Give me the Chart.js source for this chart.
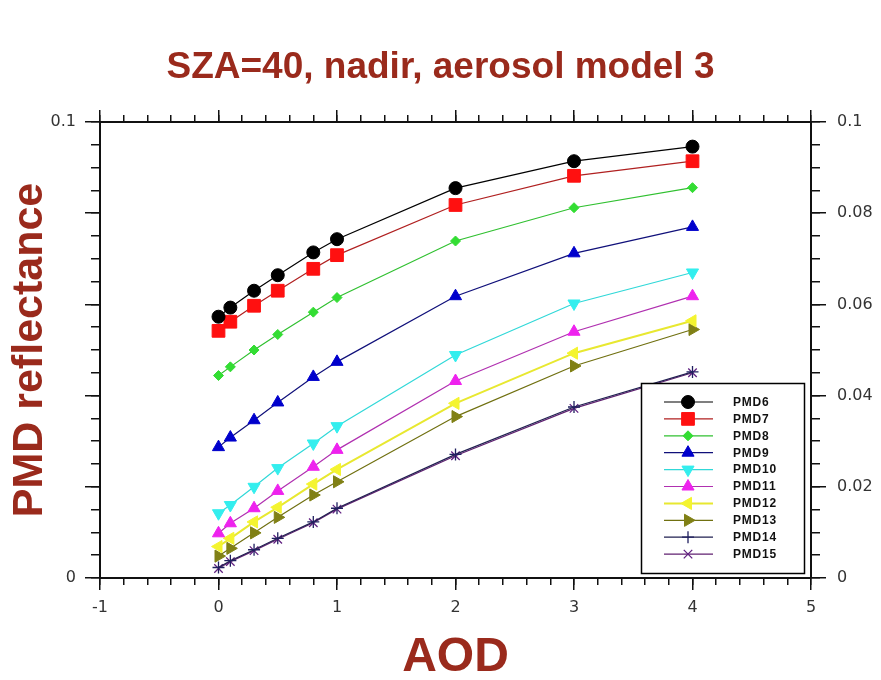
<!DOCTYPE html>
<html>
<head>
<meta charset="utf-8">
<title>PMD reflectance vs AOD</title>
<script src="https://cdn.jsdelivr.net/npm/chart.js@4.4.1/dist/chart.umd.min.js"></script>
<style>
  body { margin: 0; background: #fff; }
  #graphCanvas { display: block; }
</style>
</head>
<body>
<canvas id="graphCanvas" width="881" height="680"></canvas>
<script>
// aerosol optical depth values (x)
var aod = [0, 0.1, 0.3, 0.5, 0.8, 1, 2, 3, 4];

// reflectance per PMD channel
var pmd6  = [0.0573, 0.0593, 0.0630, 0.0664, 0.0714, 0.0743, 0.0855, 0.0914, 0.0946];
var pmd7  = [0.0542, 0.0562, 0.0597, 0.0630, 0.0678, 0.0708, 0.0818, 0.0882, 0.0914];
var pmd8  = [0.0444, 0.0463, 0.0500, 0.0534, 0.0583, 0.0615, 0.0739, 0.0812, 0.0856];
var pmd9  = [0.0287, 0.0308, 0.0346, 0.0385, 0.0441, 0.0474, 0.0618, 0.0712, 0.0770];
var pmd10 = [0.0142, 0.0160, 0.0200, 0.0241, 0.0295, 0.0333, 0.0489, 0.0602, 0.0670];
var pmd11 = [0.0098, 0.0120, 0.0153, 0.0191, 0.0244, 0.0281, 0.0432, 0.0540, 0.0618];
var pmd12 = [0.0069, 0.0087, 0.0123, 0.0155, 0.0206, 0.0238, 0.0383, 0.0493, 0.0564];
var pmd13 = [0.0048, 0.0065, 0.0099, 0.0133, 0.0182, 0.0211, 0.0354, 0.0465, 0.0545];
var pmd14 = [0.0023, 0.0038, 0.0062, 0.0087, 0.0123, 0.0153, 0.0271, 0.0375, 0.0452];
var pmd15 = [0.0021, 0.0036, 0.0060, 0.0085, 0.0121, 0.0151, 0.0268, 0.0372, 0.0450];

var seriesNames = ['PMD6', 'PMD7', 'PMD8', 'PMD9', 'PMD10', 'PMD11', 'PMD12', 'PMD13', 'PMD14', 'PMD15'];
var seriesValues = [pmd6, pmd7, pmd8, pmd9, pmd10, pmd11, pmd12, pmd13, pmd14, pmd15];

// x axis: labels at integers, y axis right: labels every 0.02
var xMin = -1, xMax = 5;
var yMin = 0, yMax = 0.1;
var leftLabels = [0, 0.1];

// styles per series
var lineColors  = ['#000000', '#b02020', '#30c030', '#10107a', '#30d8d8', '#b030b0', '#e8e830', '#707010', '#202050', '#602070'];
var pointColors = ['#000000', '#ff1010', '#33dd33', '#0000cc', '#33eeee', '#ee22ee', '#f4f430', '#808015', '#202060', '#602080'];
var pointStyles = ['circle', 'rect', 'rectRot', 'triangle', 'triangle', 'triangle', 'triangle', 'triangle', 'cross', 'crossRot'];
var pointRot    = [0, 0, 0, 0, 180, 0, -90, 90, 0, 0];
var pointSizes  = [6.5, 9, 5, 7, 7, 7, 7, 7, 6, 6];
var lineWidths  = [1.2, 1.2, 1.2, 1.2, 1.2, 1.2, 2, 1.2, 1.2, 1.2];

var titleRed = '#9a2a1c';
var tickFont = { family: 'DejaVu Sans', size: 16 };

function isWhole(v) {
    return Math.abs(v - Math.round(v)) < 1e-6;
}

var datasets = [];
for (var i = 0; i < seriesNames.length; i++) {
    var pts = [];
    for (var j = 0; j < aod.length; j++) {
        pts.push({ x: aod[j], y: seriesValues[i][j] });
    }
    var isCross = pointStyles[i] === 'cross' || pointStyles[i] === 'crossRot';
    datasets.push({
        label: seriesNames[i],
        data: pts,
        xAxisID: 'x',
        yAxisID: 'y',
        borderColor: lineColors[i],
        borderWidth: lineWidths[i],
        backgroundColor: pointColors[i],
        pointBackgroundColor: pointColors[i],
        pointBorderColor: pointColors[i],
        pointBorderWidth: isCross ? 1.3 : 1,
        pointStyle: pointStyles[i],
        pointRotation: pointRot[i],
        pointRadius: pointSizes[i],
        pointHoverRadius: pointSizes[i],
        tension: 0,
        fill: false
    });
}

// legend drawn inside the plot, lower right, like the original
var boxLegend = {
    id: 'boxLegend',
    afterDatasetsDraw: function (chart) {
        var ctx = chart.ctx;
        var bx = 641.5, by = 383.5, bw = 163, bh = 190;
        ctx.save();
        ctx.fillStyle = '#ffffff';
        ctx.fillRect(bx, by, bw, bh);
        ctx.strokeStyle = '#000';
        ctx.lineWidth = 1.5;
        ctx.strokeRect(bx, by, bw, bh);
        ctx.font = 'bold 12px "Liberation Sans", Arial, sans-serif';
        if ('letterSpacing' in ctx) ctx.letterSpacing = '0.8px';
        ctx.textBaseline = 'middle';
        chart.data.datasets.forEach(function (ds, k) {
            var y = 402 + k * 16.9;
            ctx.strokeStyle = ds.borderColor;
            ctx.lineWidth = ds.borderWidth;
            ctx.beginPath();
            ctx.moveTo(664, y);
            ctx.lineTo(713, y);
            ctx.stroke();
            ctx.fillStyle = ds.pointBackgroundColor;
            ctx.strokeStyle = ds.pointBorderColor;
            ctx.lineWidth = ds.pointBorderWidth;
            Chart.helpers.drawPoint(ctx, {
                pointStyle: ds.pointStyle,
                rotation: ds.pointRotation,
                radius: ds.pointRadius,
                borderWidth: ds.pointBorderWidth
            }, 688, y);
            ctx.fillStyle = '#111';
            ctx.fillText(ds.label, 733, y + 0.5);
        });
        ctx.restore();
    }
};

function minorX(pos, weight, h, title) {
    return {
        type: 'linear', position: pos, min: xMin, max: xMax, weight: weight,
        border: { display: true, color: '#111', width: 2 },
        grid: { drawOnChartArea: false, drawTicks: true, tickLength: 7, color: '#111', tickColor: '#111', lineWidth: 1.5 },
        ticks: {
            stepSize: 0.2, autoSkip: false, maxRotation: 0, padding: 13,
            color: '#333', font: tickFont,
            display: pos === 'bottom',
            callback: function (v) { return isWhole(v) ? String(Math.round(v)) : ''; }
        },
        title: title,
        afterFit: function (s) { s.height = h; }
    };
}

function majorX(pos) {
    return {
        type: 'linear', position: pos, min: xMin, max: xMax, weight: 0,
        border: { display: false },
        grid: { drawOnChartArea: false, drawTicks: true, tickLength: 12, tickColor: '#111', lineWidth: 1.5 },
        ticks: { stepSize: 1, autoSkip: false, display: false },
        afterFit: function (s) { s.height = 0; }
    };
}

function minorY(pos, w, labelFn, title) {
    return {
        type: 'linear', position: pos, min: yMin, max: yMax, weight: 1,
        border: { display: true, color: '#111', width: 2 },
        grid: { drawOnChartArea: false, drawTicks: true, tickLength: 9, tickColor: '#111', lineWidth: 1.5 },
        ticks: {
            stepSize: 0.005, autoSkip: false, padding: pos === 'left' ? 15 : 17,
            color: '#333', font: tickFont,
            callback: labelFn
        },
        title: title,
        afterFit: function (s) { s.width = w; }
    };
}

function majorY(pos) {
    return {
        type: 'linear', position: pos, min: yMin, max: yMax, weight: 0,
        border: { display: false },
        grid: { drawOnChartArea: false, drawTicks: true, tickLength: 15, tickColor: '#111', lineWidth: 1.5 },
        ticks: { stepSize: 0.02, autoSkip: false, display: false },
        afterFit: function (s) { s.width = 0; }
    };
}

function fmtY(v) {
    var r = Math.round(v * 1000) / 1000;
    return String(r);
}

var graphTarget = document.getElementById('graphCanvas');

var lineGraph = new Chart(graphTarget, {
    type: 'line',
    data: { datasets: datasets },
    options: {
        responsive: false,
        animation: false,
        devicePixelRatio: 1,
        layout: { padding: 0 },
        plugins: {
            legend: { display: false },
            tooltip: { enabled: false },
            title: {
                display: true,
                text: 'SZA=40, nadir, aerosol model 3',
                color: titleRed,
                font: { family: 'Liberation Sans', size: 37, weight: 'bold', lineHeight: 1 },
                padding: { top: 49, bottom: 10 }
            }
        },
        scales: {
            xMajor: majorX('bottom'),
            x: minorX('bottom', 1, 102, {
                display: true, text: 'AOD', color: titleRed,
                font: { family: 'Liberation Sans', size: 48, weight: 'bold', lineHeight: 1 },
                padding: { top: 0, bottom: -2 }
            }),
            xTopMajor: majorX('top'),
            xTop: minorX('top', 1, 26, { display: false }),
            yMajor: majorY('left'),
            y: minorY('left', 100, function (v) {
                for (var k = 0; k < leftLabels.length; k++) {
                    if (Math.abs(v - leftLabels[k]) < 1e-6) return fmtY(v);
                }
                return '';
            }, {
                display: true, text: 'PMD reflectance', color: titleRed,
                font: { family: 'Liberation Sans', size: 43, weight: 'bold', lineHeight: 1.2 },
                padding: { top: 4, bottom: 0 }
            }),
            yRightMajor: majorY('right'),
            yRight: minorY('right', 70, function (v) {
                var q = v / 0.02;
                return isWhole(q) ? fmtY(v) : '';
            }, { display: false })
        }
    },
    plugins: [boxLegend]
});
</script>
</body>
</html>
